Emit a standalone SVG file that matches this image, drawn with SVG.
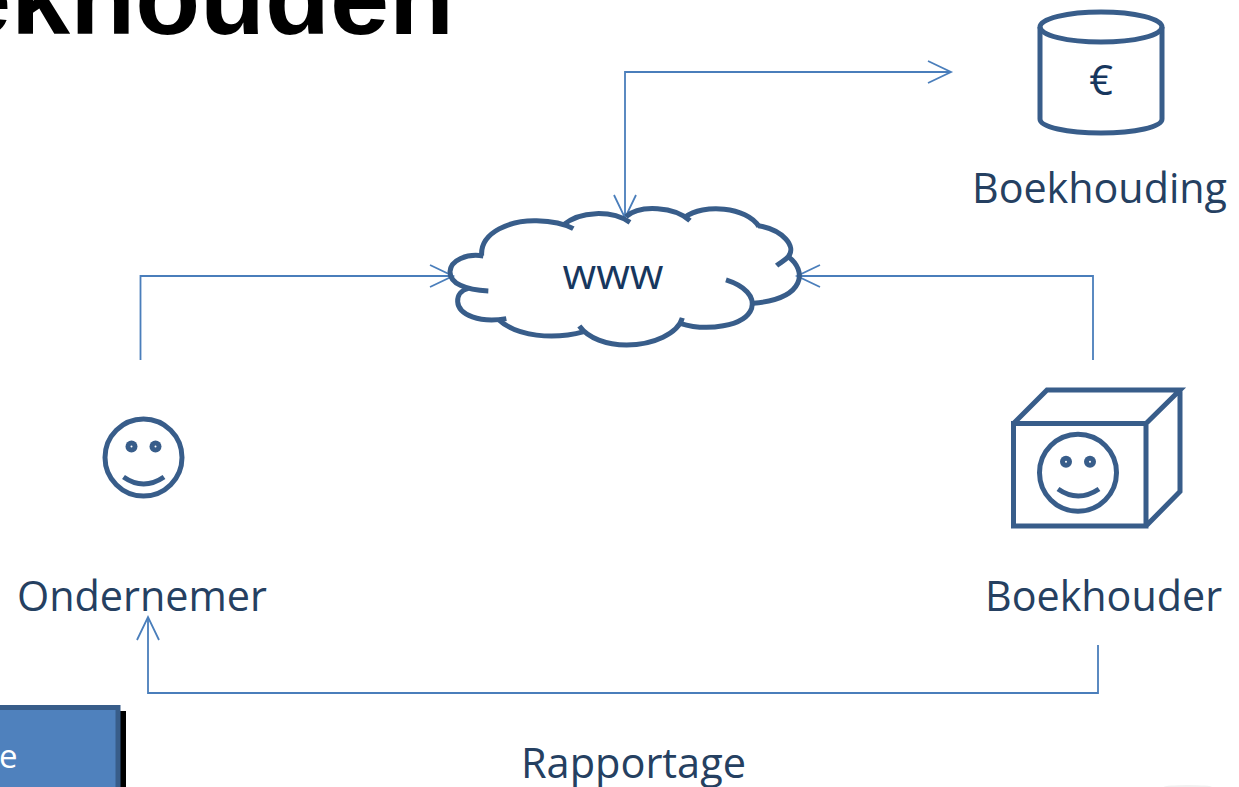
<svg xmlns="http://www.w3.org/2000/svg" width="1239" height="787" viewBox="0 0 1239 787">
<style>
.s{fill:none;stroke:#385D8A;stroke-width:5}
.z{fill:none;stroke:#385D8A;stroke-width:15}
.c{fill:none;stroke:#4A7EBB;stroke-width:1.800;marker-end:url(#h)}
.l{font-family:"Open Sans","Liberation Sans",sans-serif;fill:#254061;font-size:41.500px}
.e{fill:#385D8A}
.d{fill:#fff}
</style>
<defs>
<marker id="h" markerUnits="userSpaceOnUse" markerWidth="30" markerHeight="30" refX="24" refY="12" viewBox="0 0 30 30" orient="auto-start-reverse" overflow="visible"><path d="M1,1 L24,12 L1,23" fill="none" stroke="#4A7EBB" stroke-width="1.800"/></marker>
</defs>
<rect width="1239" height="787" fill="#fff"/>
<ellipse cx="1188" cy="787" rx="24" ry="2" fill="#f1f1f1"/>
<g id="title"><text x="-48" y="34" font-family="'Liberation Sans',Arial,sans-serif" font-weight="700" font-size="106.300" fill="#000">ekhouden</text></g>
<g id="connectors">
<path class="c" style="marker-start:url(#h)" d="M951,72 H625 V218"/>
<path class="c" d="M140.500,360 V276 H453"/>
<path class="c" d="M1093,360 V276 H797"/>
<path class="c" d="M1098,645 V693 H148 V617"/>
</g>
<g id="cloud">
<g transform="translate(430,190) scale(.3333)">
<path class="z" d="M155,197 C150,125 245,90 320,92 C365,93 405,102 430,116"/>
<path class="z" d="M400,105 C450,62 545,60 600,97"/>
<path class="z" d="M588,80 C630,42 735,50 780,92"/>
<path class="z" d="M765,82 C820,40 950,50 987,110"/>
<path class="z" d="M985,107 C1060,120 1100,170 1075,200 C1065,212 1050,218 1040,227"/>
<path class="z" d="M1075,200 C1130,240 1130,325 970,340"/>
<path class="z" d="M888,270 C945,288 975,320 965,355 C945,410 830,425 750,400"/>
<path class="z" d="M757,384 C745,430 670,465 590,465 C530,465 475,445 448,408"/>
<path class="z" d="M462,425 C370,450 260,440 205,388"/>
<path class="z" d="M229,386 C150,400 85,375 83,335 C82,315 95,300 115,295"/>
<path class="z" d="M175,303 C105,300 60,280 60,245 C62,210 110,190 160,198"/>
</g>
<text x="613" y="289" text-anchor="middle" class="l" textLength="101" lengthAdjust="spacingAndGlyphs" style="fill:#17375E;font-size:42px">www</text>
</g>
<g id="boekhouding">
<path class="s" d="M1040,27 V119 C1040,127 1067,133 1101,133 C1135,133 1162,127 1162,119 V27"/>
<ellipse class="s" cx="1101" cy="27" rx="61" ry="15"/>
<text x="1101" y="95" text-anchor="middle" class="l" style="fill:#17375E">€</text>
<text x="972" y="203" class="l" textLength="255" lengthAdjust="spacingAndGlyphs">Boekhouding</text>
</g>
<g id="ondernemer">
<circle class="s" cx="143.500" cy="457.500" r="38.500"/>
<circle class="e" cx="131.500" cy="446.500" r="6"/><circle class="d" cx="131.500" cy="446.500" r="1"/>
<circle class="e" cx="155.500" cy="446.500" r="6"/><circle class="d" cx="155.500" cy="446.500" r="1"/>
<path class="s" d="M123.500,477 Q143.500,491 164,477"/>
<text x="17" y="611" class="l" textLength="250" lengthAdjust="spacingAndGlyphs">Ondernemer</text>
</g>
<g id="boekhouder">
<path class="s" d="M1013.500,423.500 H1146 V526 H1013.500 Z M1013.500,423.500 L1047,390 H1180 L1146,423.500 M1180,390 V491.500 L1146,526"/>
<circle class="s" cx="1078" cy="472.700" r="38.500"/>
<circle class="e" cx="1066" cy="461.700" r="6"/><circle class="d" cx="1066" cy="461.700" r="1"/>
<circle class="e" cx="1090" cy="461.700" r="6"/><circle class="d" cx="1090" cy="461.700" r="1"/>
<path class="s" d="M1058,489 Q1078,503 1099,489"/>
<text x="985" y="611" class="l" textLength="237" lengthAdjust="spacingAndGlyphs">Boekhouder</text>
</g>
<g id="rapportage"><text x="521" y="778" class="l" textLength="225" lengthAdjust="spacingAndGlyphs">Rapportage</text></g>
<g id="button">
<rect x="120" y="711" width="6" height="76" fill="#000"/>
<rect x="-10" y="707.500" width="128" height="90" fill="#4F81BD" stroke="#385D8A" stroke-width="5"/>
<text x="-1" y="768" font-family="'Open Sans','Liberation Sans',sans-serif" font-size="33" fill="#fff">e</text>
</g>
</svg>
